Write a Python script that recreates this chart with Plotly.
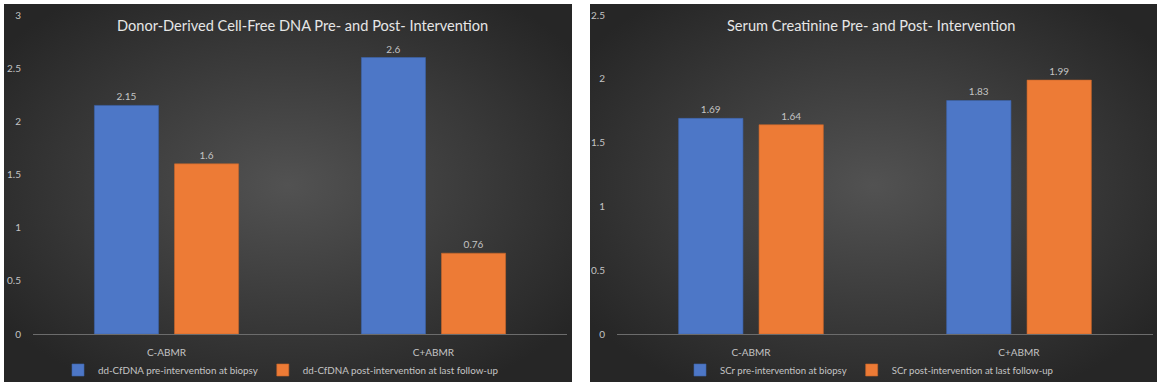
import base64
import plotly.graph_objects as go

# ---------------- data ----------------
categories = ["C-ABMR", "C+ABMR"]

dd_pre = [2.15, 2.6]
dd_post = [1.6, 0.76]
dd_names = ["dd-CfDNA pre-intervention at biopsy", "dd-CfDNA post-intervention at last follow-up"]
dd_title = "Donor-Derived Cell-Free DNA Pre- and Post- Intervention"
dd_ticks = [0, 0.5, 1, 1.5, 2, 2.5, 3]

scr_pre = [1.69, 1.83]
scr_post = [1.64, 1.99]
scr_names = ["SCr pre-intervention at biopsy", "SCr post-intervention at last follow-up"]
scr_title = "Serum Creatinine Pre- and Post- Intervention"
scr_ticks = [0, 0.5, 1, 1.5, 2, 2.5]

# ---------------- style ----------------
W, H = 1163, 390
BLUE = "#4d77c7"
ORANGE = "#ed7b36"
TXT = "#c4c4c4"
FONT = "Lato"


def px(x):
    return x / W


def py(y):
    return 1 - y / H


def fmt(v):
    return f"{v:g}"


svg = (
    '<svg xmlns="http://www.w3.org/2000/svg" width="568" height="378" viewBox="0 0 568 378" preserveAspectRatio="none">'
    '<defs><radialGradient id="g" cx="50%" cy="48%" r="62%">'
    '<stop offset="0%" stop-color="#525252"/><stop offset="100%" stop-color="#262626"/>'
    '</radialGradient></defs><rect width="568" height="378" fill="url(#g)"/></svg>'
)
bg_src = "data:image/svg+xml;base64," + base64.b64encode(svg.encode()).decode()

fig = go.Figure()

fig.add_trace(go.Bar(x=categories, y=dd_pre, name=dd_names[0], marker=dict(color=BLUE, line=dict(color="#3d64ad", width=0.6)),
                     text=[fmt(v) for v in dd_pre], textposition="outside", cliponaxis=False,
                     textfont=dict(size=10, color=TXT, family=FONT), xaxis="x", yaxis="y", legend="legend"))
fig.add_trace(go.Bar(x=categories, y=dd_post, name=dd_names[1], marker=dict(color=ORANGE, line=dict(color="#c9662a", width=0.6)),
                     text=[fmt(v) for v in dd_post], textposition="outside", cliponaxis=False,
                     textfont=dict(size=10, color=TXT, family=FONT), xaxis="x", yaxis="y", legend="legend"))
fig.add_trace(go.Bar(x=categories, y=scr_pre, name=scr_names[0], marker=dict(color=BLUE, line=dict(color="#3d64ad", width=0.6)),
                     text=[fmt(v) for v in scr_pre], textposition="outside", cliponaxis=False,
                     textfont=dict(size=10, color=TXT, family=FONT), xaxis="x2", yaxis="y2", legend="legend2"))
fig.add_trace(go.Bar(x=categories, y=scr_post, name=scr_names[1], marker=dict(color=ORANGE, line=dict(color="#c9662a", width=0.6)),
                     text=[fmt(v) for v in scr_post], textposition="outside", cliponaxis=False,
                     textfont=dict(size=10, color=TXT, family=FONT), xaxis="x2", yaxis="y2", legend="legend2"))

xcommon = dict(showline=True, linecolor="#6c6c6c", linewidth=1, showgrid=False, zeroline=False,
               ticks="outside", ticklen=9, tickcolor="rgba(0,0,0,0)", automargin=False,
               tickfont=dict(size=10, color=TXT, family=FONT), fixedrange=True)
ycommon = dict(showline=False, showgrid=False, zeroline=False, ticks="outside", ticklen=9,
               tickcolor="rgba(0,0,0,0)", automargin=False,
               tickfont=dict(size=10, color=TXT, family=FONT), fixedrange=True)

ydom = [py(334), py(15)]

fig.update_layout(
    width=W, height=H, autosize=False,
    margin=dict(l=0, r=0, t=0, b=0, autoexpand=False),
    paper_bgcolor="white", plot_bgcolor="rgba(0,0,0,0)",
    barmode="group", bargap=0.40, bargroupgap=0.2,
    font=dict(family=FONT, color=TXT),
    xaxis=dict(domain=[px(33), px(567)], anchor="y", **xcommon),
    yaxis=dict(domain=ydom, anchor="x", range=[0, 3], tickvals=dd_ticks,
               ticktext=[fmt(v) for v in dd_ticks], **ycommon),
    xaxis2=dict(domain=[px(617), px(1153)], anchor="y2", **xcommon),
    yaxis2=dict(domain=ydom, anchor="x2", range=[0, 2.5], tickvals=scr_ticks,
                ticktext=[fmt(v) for v in scr_ticks], **ycommon),
    legend=dict(orientation="h", x=px(281), xanchor="center", y=py(370), yanchor="middle",
                bgcolor="rgba(0,0,0,0)", font=dict(size=9.8, color=TXT, family=FONT),
                itemwidth=30, tracegroupgap=0),
    legend2=dict(orientation="h", x=px(869), xanchor="center", y=py(370), yanchor="middle",
                 bgcolor="rgba(0,0,0,0)", font=dict(size=9.6, color=TXT, family=FONT),
                 itemwidth=30, tracegroupgap=0),
    images=[
        dict(source=bg_src, xref="paper", yref="paper", x=px(4), y=py(4), sizex=px(572 - 4),
             sizey=(382 - 4) / H, sizing="stretch", layer="below", xanchor="left", yanchor="top"),
        dict(source=bg_src, xref="paper", yref="paper", x=px(590), y=py(4), sizex=px(1157 - 590),
             sizey=(382 - 4) / H, sizing="stretch", layer="below", xanchor="left", yanchor="top"),
    ],
    annotations=[
        dict(text=dd_title, xref="paper", yref="paper", x=px(302), y=py(26), xanchor="center",
             yanchor="middle", showarrow=False, font=dict(size=14.6, color="#e6e6e6", family=FONT)),
        dict(text=scr_title, xref="paper", yref="paper", x=px(871), y=py(26), xanchor="center",
             yanchor="middle", showarrow=False, font=dict(size=14.6, color="#e6e6e6", family=FONT)),
    ],
)

fig.write_html("out.html", config={"displayModeBar": False},
               post_script="document.body.style.margin='0';document.body.style.overflow='hidden';")
